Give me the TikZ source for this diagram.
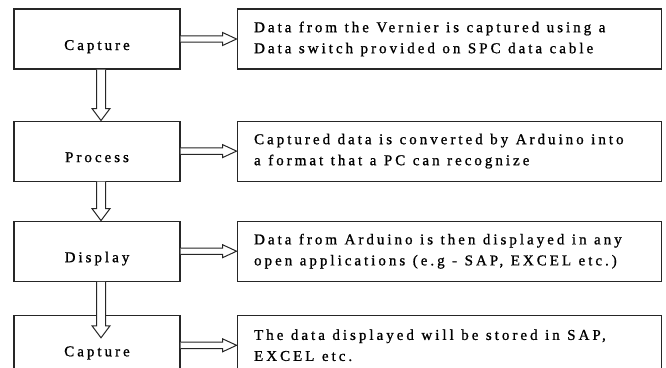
\documentclass[tikz,border=0pt]{standalone}
\usepackage{fontspec}
\setmainfont{Liberation Serif}[LetterSpace=20, FakeBold=1]
\usetikzlibrary{positioning, calc}

\newcommand{\widewords}{\spaceskip=7.5pt\relax}

% hollow block arrows between boxes
\newcommand{\hollowright}[2]{%
  \draw[hollow] ($(#1.east)+(0,-3.2)$) -- ($(#2.west)+(-14,-3.2)$) -- ($(#2.west)+(-14,-6.5)$)
    -- (#2.west) -- ($(#2.west)+(-14,6.5)$) -- ($(#2.west)+(-14,3.2)$) -- ($(#1.east)+(0,3.2)$);}
\newcommand{\hollowdown}[3]{%
  \draw[hollow] ($(#1.south)+(-0.5,0)$) -- ($(#2.north)+(-0.5,#3-12)$) -- ($(#2.north)+(-5,#3-12)$)
    -- ($(#2.north)+(4,#3)$) -- ($(#2.north)+(13,#3-12)$) -- ($(#2.north)+(8.5,#3-12)$) -- ($(#1.south)+(8.5,0)$);}

\begin{document}
\begin{tikzpicture}[x=1pt, y=-1pt, node distance=51pt and 56pt,
  stage/.style={draw=black!85, line width=1.1pt, minimum width=166pt, minimum height=60pt,
    inner sep=0pt, text height=22pt, text depth=0pt, font=\fontsize{15}{17}\selectfont},
  note/.style={draw=black!85, line width=1.1pt, minimum width=424pt, minimum height=60pt,
    inner sep=0pt, text width=390pt, align=left, font=\fontsize{15}{21}\selectfont,
    execute at begin node=\widewords},
  hollow/.style={draw=black!85, fill=white, line width=1pt}]
  \useasboundingbox (0,0) rectangle (666,367);
  \clip (0,0) rectangle (666,367);

  \node[stage] (capture) at (97,39) {Capture};
  \node[stage,below=51pt of capture] (process) {Process};
  \node[stage,below=39pt of process] (display) {Display};
  \node[stage,below=33pt of display] (save) {Capture};

  \node[note,right=56pt of capture] (capturenote) {Data from the Vernier is captured using a\\Data switch provided on SPC data cable};
  \node[note,right=56pt of process] (processnote) {Captured data is converted by Arduino into\\a format that a PC can recognize};
  \node[note,right=56pt of display] (displaynote) {Data from Arduino is then displayed in any\\open applications (e.g - SAP, EXCEL etc.)};
  \node[note,right=56pt of save] (savenote) {The data displayed will be stored in SAP,\\EXCEL etc.};

  \hollowright{capture}{capturenote}
  \hollowright{process}{processnote}
  \hollowright{display}{displaynote}
  \hollowright{save}{savenote}

  \hollowdown{capture}{process}{0}
  \hollowdown{process}{display}{0}
  \hollowdown{display}{save}{23}
\end{tikzpicture}
\end{document}
